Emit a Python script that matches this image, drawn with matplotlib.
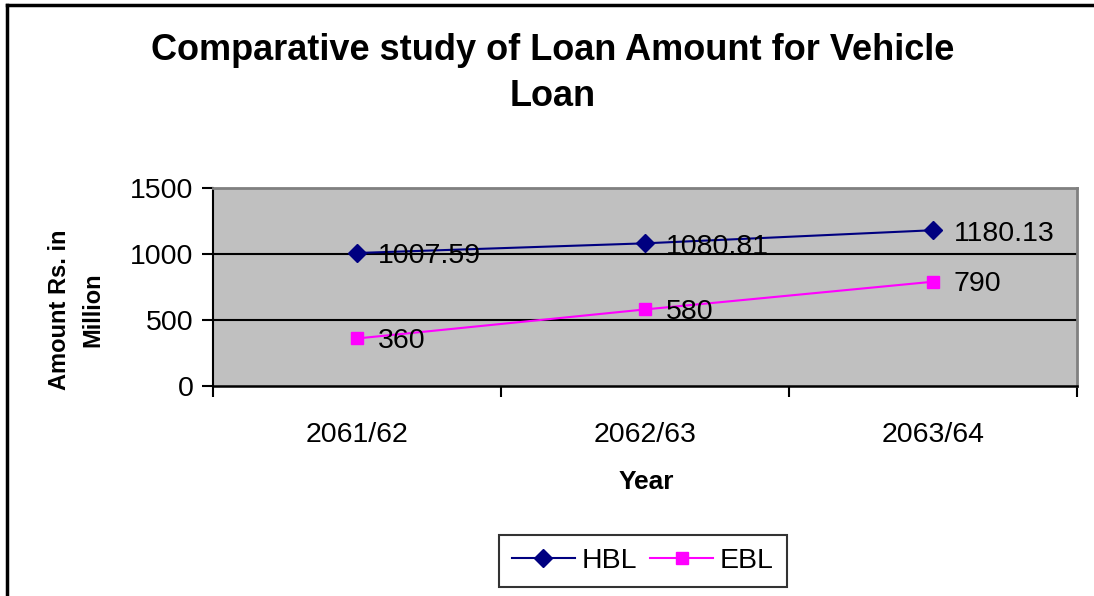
import matplotlib
matplotlib.use("Agg")
import matplotlib.pyplot as plt
from matplotlib.lines import Line2D

plt.rcParams['font.family'] = ['Liberation Sans', 'DejaVu Sans']

years = ["2061/62", "2062/63", "2063/64"]
hbl = [1007.59, 1080.81, 1180.13]
ebl = [360, 580, 790]
hbl_labels = ["1007.59", "1080.81", "1180.13"]
ebl_labels = ["360", "580", "790"]
yticks = [0, 500, 1000, 1500]

W, H = 1094, 596
fig = plt.figure(figsize=(W / 100, H / 100), dpi=100)
fig.patch.set_facecolor('white')

# outer chart border (top and left)
fig.add_artist(Line2D([7 / W, 7 / W], [0, 1 - 5 / H], transform=fig.transFigure, color='black', lw=2.5))
fig.add_artist(Line2D([7 / W, 1], [1 - 5 / H, 1 - 5 / H], transform=fig.transFigure, color='black', lw=2.5))

ax = fig.add_axes([213 / W, 1 - 386 / H, (1077 - 213) / W, (386 - 188) / H])
ax.set_facecolor('#C0C0C0')

x = list(range(len(years)))
ax.plot(x, hbl, color='#000080', marker='D', markersize=9, lw=1.5, label='HBL', zorder=3)
ax.plot(x, ebl, color='#FF00FF', marker='s', markersize=9, lw=1.5, label='EBL', zorder=3)

for xi, v, t in zip(x, hbl, hbl_labels):
    ax.annotate(t, (xi, v), xytext=(15, -2.5), textcoords='offset points', va='center', ha='left',
                fontsize=20.5, color='black', zorder=4)
for xi, v, t in zip(x, ebl, ebl_labels):
    ax.annotate(t, (xi, v), xytext=(15, -1.5), textcoords='offset points', va='center', ha='left',
                fontsize=20.5, color='black', zorder=4)

ax.set_xlim(-0.5, len(years) - 0.5)
ax.set_ylim(0, 1500)
ax.set_yticks(yticks)
ax.set_yticklabels([str(v) for v in yticks], fontsize=20.5)
for v in yticks[1:-1]:
    ax.axhline(v, color='black', lw=1.5, zorder=1)

ax.set_xticks([i - 0.5 for i in range(len(years) + 1)])
ax.set_xticklabels([])
ax.set_xticks(x, minor=True)
ax.set_xticklabels(years, minor=True, fontsize=20.5)
ax.tick_params(axis='x', which='minor', length=0, pad=26)
ax.tick_params(axis='x', which='major', direction='out', length=8, width=1.5, color='black')
ax.tick_params(axis='y', direction='out', length=8, width=1.5, color='black', pad=6)

ax.spines['left'].set_color('black')
ax.spines['left'].set_linewidth(1.5)
ax.spines['bottom'].set_color('black')
ax.spines['bottom'].set_linewidth(1.8)
ax.spines['top'].set_color('#808080')
ax.spines['top'].set_linewidth(2)
ax.spines['right'].set_color('#808080')
ax.spines['right'].set_linewidth(2)

fig.text(553 / W, 1 - 50 / H, "Comparative study of Loan Amount for Vehicle", ha='center', va='center',
         fontsize=26, fontweight='bold')
fig.text(553 / W, 1 - 97 / H, "Loan", ha='center', va='center', fontsize=26, fontweight='bold')
fig.text(646 / W, 1 - 482 / H, "Year", ha='center', va='center', fontsize=19, fontweight='bold')
fig.text(76 / W, 1 - 310 / H, "Amount Rs. in\nMillion", ha='center', va='center', rotation=90,
         fontsize=17, fontweight='bold', linespacing=1.55)

leg = fig.legend(loc='center', bbox_to_anchor=(643 / W, 1 - 561 / H), ncol=2, fontsize=20.5,
                 frameon=True, fancybox=False, edgecolor='black', handlelength=2.2,
                 handletextpad=0.25, columnspacing=0.45, borderpad=0.45, borderaxespad=0)
leg.get_frame().set_linewidth(1.5)

fig.savefig('out.png', dpi=100, facecolor='white')
